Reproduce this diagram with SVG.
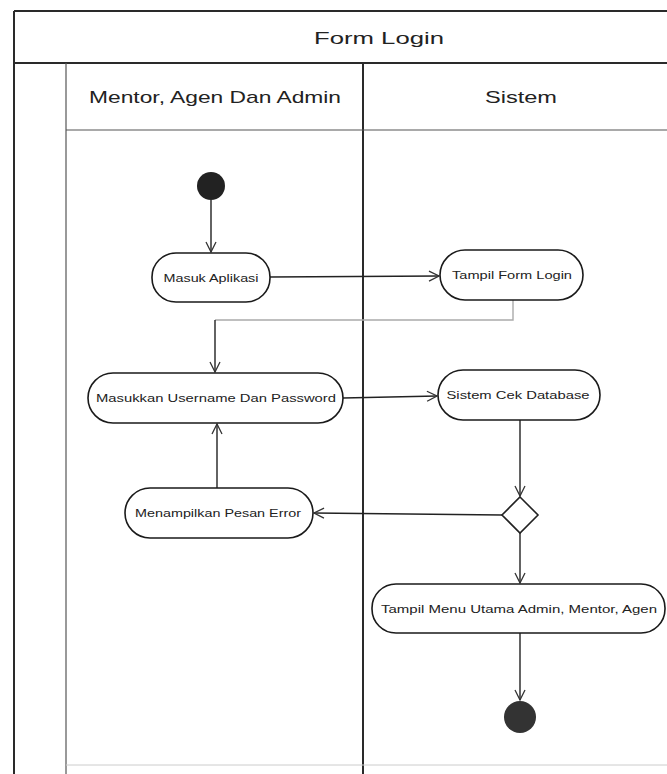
<svg xmlns="http://www.w3.org/2000/svg" width="667" height="774" viewBox="0 0 667 774">
<style>
.frame{fill:none;stroke:#2a2a2a;stroke-width:2}
.thin{fill:none;stroke:#555;stroke-width:1.2}
.act{fill:#fff;stroke:#1a1a1a;stroke-width:1.6}
.lbl{font-family:"Liberation Sans",Arial,sans-serif;font-size:10.5px;fill:#222;text-anchor:middle;dominant-baseline:central}
.hdr{font-family:"Liberation Sans",Arial,sans-serif;font-size:17px;fill:#222;text-anchor:middle;dominant-baseline:central}
.edge{fill:none;stroke:#222;stroke-width:1.4}
.faint{fill:none;stroke:#aaa;stroke-width:1.4}
</style>
<defs>
<marker id="arr" viewBox="0 0 12 12" refX="11" refY="6" markerWidth="12" markerHeight="12" markerUnits="userSpaceOnUse" orient="auto">
<polyline points="1,1 11,6 1,11" fill="none" stroke="#333" stroke-width="1.3"/>
</marker>
</defs>
<rect width="667" height="774" fill="#fff"/>
<g id="swimlanes">
<line class="frame" x1="14" y1="11" x2="667" y2="11"/>
<line class="frame" x1="14" y1="11" x2="14" y2="774"/>
<line class="frame" x1="14" y1="63" x2="667" y2="63"/>
<line class="thin" x1="66" y1="63" x2="66" y2="774"/>
<line class="frame" x1="363" y1="63" x2="363" y2="774"/>
<line class="thin" x1="66" y1="130" x2="667" y2="130"/>
<line x1="66" y1="765" x2="667" y2="765" stroke="#ccc" stroke-width="1"/>
<text class="hdr" x="379" y="38" font-size="18" textLength="130" lengthAdjust="spacingAndGlyphs">Form Login</text>
<text class="hdr" x="215" y="97" textLength="252" lengthAdjust="spacingAndGlyphs">Mentor, Agen Dan Admin</text>
<text class="hdr" x="521" y="97" textLength="72" lengthAdjust="spacingAndGlyphs">Sistem</text>
</g>
<g id="connectors">
<line class="edge" x1="211" y1="200" x2="211" y2="252" marker-end="url(#arr)"/>
<line class="edge" x1="270" y1="277" x2="439" y2="276" marker-end="url(#arr)"/>
<polyline class="faint" points="513,300 513,320 215,320"/>
<line class="edge" x1="215" y1="320" x2="215" y2="372" marker-end="url(#arr)"/>
<line class="edge" x1="343" y1="398" x2="437" y2="396" marker-end="url(#arr)"/>
<line class="edge" x1="520" y1="420" x2="520" y2="496" marker-end="url(#arr)"/>
<line class="edge" x1="502" y1="515" x2="314" y2="513" marker-end="url(#arr)"/>
<line class="edge" x1="217" y1="488" x2="217" y2="424" marker-end="url(#arr)"/>
<line class="edge" x1="520" y1="533" x2="520" y2="583" marker-end="url(#arr)"/>
<line class="edge" x1="520" y1="633" x2="520" y2="700" marker-end="url(#arr)"/>
</g>
<g id="start"><circle cx="211" cy="186" r="14" fill="#222"/></g>
<g id="masuk-aplikasi">
<rect class="act" x="152" y="253" width="118" height="49" rx="24"/>
<text class="lbl" x="211" y="277.5" textLength="95" lengthAdjust="spacingAndGlyphs">Masuk Aplikasi</text>
</g>
<g id="tampil-form-login">
<rect class="act" x="440" y="250" width="143" height="50" rx="25"/>
<text class="lbl" x="512" y="275" textLength="120" lengthAdjust="spacingAndGlyphs">Tampil Form Login</text>
</g>
<g id="masukkan-username">
<rect class="act" x="88" y="373" width="255" height="50" rx="25"/>
<text class="lbl" x="216" y="398" textLength="240" lengthAdjust="spacingAndGlyphs">Masukkan Username Dan Password</text>
</g>
<g id="sistem-cek-database">
<rect class="act" x="438" y="370" width="162" height="50" rx="25"/>
<text class="lbl" x="518" y="395" textLength="143" lengthAdjust="spacingAndGlyphs">Sistem Cek Database</text>
</g>
<g id="decision">
<polygon points="520,497 538,515 520,533 502,515" fill="#fff" stroke="#222" stroke-width="1.6"/>
</g>
<g id="pesan-error">
<rect class="act" x="125" y="488" width="188" height="50" rx="25"/>
<text class="lbl" x="218" y="513" textLength="166" lengthAdjust="spacingAndGlyphs">Menampilkan Pesan Error</text>
</g>
<g id="tampil-menu-utama">
<rect class="act" x="372" y="584" width="293" height="49" rx="24"/>
<text class="lbl" x="519" y="608.5" textLength="276" lengthAdjust="spacingAndGlyphs">Tampil Menu Utama Admin, Mentor, Agen</text>
</g>
<g id="end">
<circle cx="520" cy="717" r="16" fill="#333"/>
</g>
</svg>
